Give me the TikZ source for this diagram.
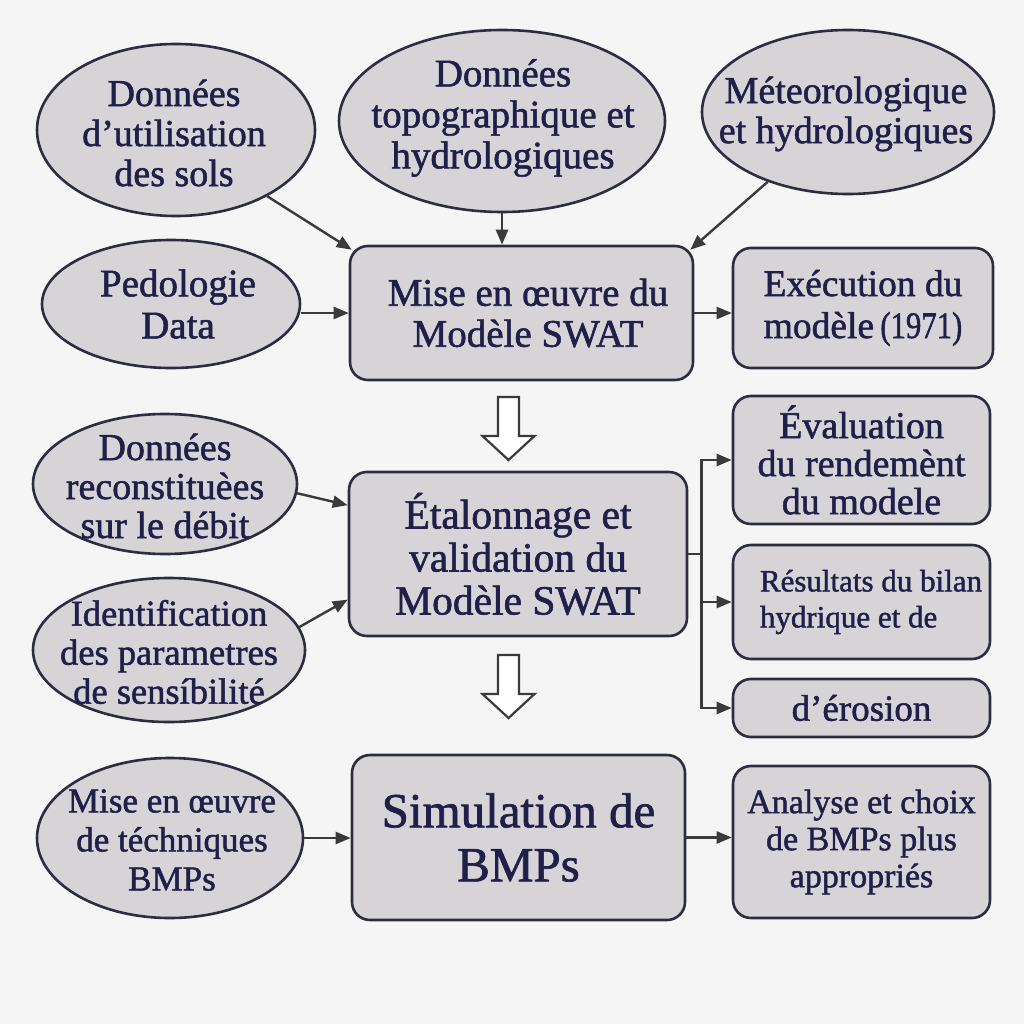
\documentclass[tikz,border=0pt]{standalone}
\usepackage{graphicx}
\usepackage{fontspec}
\setmainfont{Liberation Serif}[FakeBold=1.4]
\usetikzlibrary{shapes.geometric,arrows.meta,calc}
\definecolor{bgc}{HTML}{F5F5F5}
\definecolor{fillc}{HTML}{D6D4D7}
\definecolor{edgec}{HTML}{2D2D40}
\definecolor{txtc}{HTML}{1F1F4A}
\definecolor{linec}{HTML}{3A3A3A}
\tikzset{
  ell/.style={ellipse, draw=edgec, line width=2.6pt, fill=fillc, inner sep=0pt},
  etxt/.style={inner sep=0pt, align=center, text=txtc},
  box/.style={rectangle, rounded corners=18pt, draw=edgec, line width=2.6pt, fill=fillc, inner sep=0pt, align=center, text=txtc},
  arr/.style={draw=linec, line width=2.4pt, -{Triangle[length=15pt,width=12pt]}},
  conn/.style={draw=linec, line width=2.4pt},
  bigarrow/.style={draw=linec, line width=2.2pt, fill=white, line join=miter},
}
\begin{document}
\begin{tikzpicture}[x=1pt,y=-1pt]
\fill[bgc] (0,0) rectangle (1024,1024);
\useasboundingbox (0,0) rectangle (1024,1024);

% ellipses
\node[ell, minimum width=278, minimum height=172] (e1) at (176,130) {};
\node[etxt, font=\fontsize{38}{40}\selectfont] (e1t) at (174,133) {Données\\d’utilisation\\des sols};
\node[ell, minimum width=326, minimum height=182] (e2) at (502,121) {};
\node[etxt, font=\fontsize{39}{41}\selectfont] (e2t) at (503,118) {Données\\topographique et\\hydrologiques};
\node[ell, minimum width=292, minimum height=164] (e3) at (848,112) {};
\node[etxt, font=\fontsize{38}{40}\selectfont] (e3t) at (846,114) {Méteorologique\\et hydrologiques};
\node[ell, minimum width=258, minimum height=128] (e4) at (171,304) {};
\node[etxt, font=\fontsize{39}{42}\selectfont] (e4t) at (178,304) {Pedologie\\Data};
\node[ell, minimum width=264, minimum height=140] (e5) at (165,484) {};
\node[etxt, font=\fontsize{38}{39}\selectfont] (e5t) at (165,486) {Données\\reconstituèes\\sur le débit};
\node[ell, minimum width=272, minimum height=144] (e6) at (169,650) {};
\node[etxt, font=\fontsize{36.5}{39}\selectfont] (e6t) at (169,652) {Identification\\des parametres\\de sensíbilité};
\node[ell, minimum width=266, minimum height=160] (e7) at (170,838) {};
\node[etxt, font=\fontsize{35}{39}\selectfont] (e7t) at (172,840) {Mise en œuvre\\de téchniques\\BMPs};

% boxes
\node[box, minimum width=343, minimum height=134] (b1) at (521.5,313) {};
\node[etxt, font=\fontsize{39}{41}\selectfont] (b1t) at (528,313) {Mise en œuvre du\\Modèle SWAT};
\node[box, minimum width=260, minimum height=120, font=\fontsize{37.5}{42}\selectfont] (b2) at (863,308) {Exécution du\\modèle\,\scalebox{0.82}[1]{(1971)}};
\node[box, minimum width=338, minimum height=164, font=\fontsize{41.5}{43}\selectfont] (b3) at (518,554) {Étalonnage et\\validation du\\Modèle SWAT};
\node[box, minimum width=257, minimum height=128, font=\fontsize{38}{38}\selectfont] (b4) at (861.5,460) {Évaluation\\du rendemènt\\du modele};
\node[box, minimum width=257, minimum height=114] (b5) at (861.5,602) {};
\node[etxt, align=left, font=\fontsize{31}{36}\selectfont] (b5t) at (871,602) {Résultats du bilan\\hydrique et de};
\node[box, minimum width=257, minimum height=58, font=\fontsize{37}{40}\selectfont] (b6) at (861.5,708) {d’érosion};
\node[box, minimum width=333, minimum height=165, font=\fontsize{49}{54}\selectfont] (b7) at (518.5,837.5) {Simulation de\\BMPs};
\node[box, minimum width=257, minimum height=152, font=\fontsize{34}{37}\selectfont] (b8) at (861.5,842) {Analyse et choix\\de BMPs plus\\appropriés};

% connectors
\draw[arr] (e1.-36) -- ($(b1.north west)+(3,5)$);
\draw[arr] (e2.south) -- (e2.south |- b1.north);
\draw[arr] (e3.-139) -- ($(b1.north east)+(-4,5)$);
\draw[arr] (b1.west -| e4.east) -- (b1.west);
\draw[arr] (b1.east) -- (b1.east -| b2.west);
\draw[arr] (e5.-4) -- (b3.164);
\draw[arr] (e6.10) -- (b3.195);
\coordinate (br) at ($(b3.east)+(13,0)$);
\draw[conn] (b3.east) -- (br);
\draw[arr] (br) |- (b4.west);
\draw[arr] (br) |- (b6.west);
\draw[arr] (br |- b5.west) -- (b5.west);
\draw[arr] (e7.east) -- (e7.east -| b7.west);
\draw[arr] (b7.east) -- (b7.east -| b8.west);

% hollow block arrows
\coordinate (ba1) at (508.5,397);
\coordinate (ba2) at (508.5,655);
\foreach \c in {ba1,ba2}{
  \draw[bigarrow] ($(\c)+(-10.5,0)$) -- ($(\c)+(10.5,0)$) -- ($(\c)+(10.5,39)$) -- ($(\c)+(26,39)$)
    -- ($(\c)+(0,63)$) -- ($(\c)+(-26,39)$) -- ($(\c)+(-10.5,39)$) -- cycle;
}
\end{tikzpicture}
\end{document}
